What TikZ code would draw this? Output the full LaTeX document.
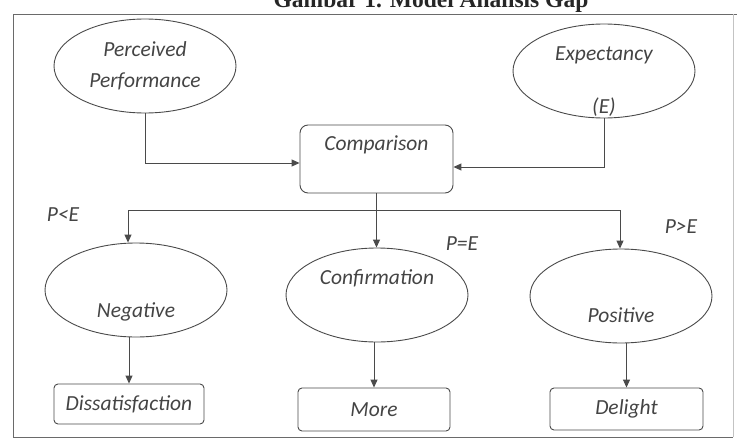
\documentclass[tikz,border=0pt]{standalone}
\usepackage{fontspec}
\setmainfont{Carlito}
\newfontfamily\titlefont{Liberation Serif}
\usetikzlibrary{positioning, calc, shapes.geometric, arrows.meta}
\definecolor{lineCol}{HTML}{4a4a4a}
\definecolor{textCol}{HTML}{444444}
\definecolor{frameCol}{HTML}{6a6a6a}
\tikzset{
    Arrow/.style = {
        draw=lineCol,
        line width=1pt,
        -{Triangle[length=8pt, width=7pt]}
    },
    Line/.style = {
        draw=lineCol,
        line width=1pt
    }
}
\tikzset{
Oval/.style={
  ellipse,
  draw=lineCol,
  line width=0.9pt,
  minimum width=182pt,
  minimum height=94pt,
  inner sep=0pt,
  },
Box/.style={
  rectangle,
  draw=lineCol,
  line width=0.9pt,
  rounded corners=4pt,
  inner sep=0pt,
  },
Txt/.style={
  font=\fontsize{21.5}{24}\selectfont\itshape,
  text=textCol,
  inner sep=0pt,
  align=center,
  }
}

\begin{document}
\begin{tikzpicture}[x=1pt, y=-1pt]
    \useasboundingbox (0,0) rectangle (737,439);

    % title (cut off at the top)
    \node[font=\titlefont\bfseries\fontsize{23.5}{26}\selectfont, anchor=base, text=black!85] (title) at (431,8) {Gambar 1. Model Analisis Gap};

    % frame
    \draw[draw=frameCol, line width=1pt] (13,14) -- (737,14);
    \draw[draw=frameCol, line width=1pt] (13,14) -- (13,437) -- (733,437);
    \draw[draw=frameCol!40, line width=0.8pt] (733,14) -- (733,437);

    % inputs
    \node[Oval] (perf) at (145,66) {};
    \node[Txt] (perfTxt) at (perf) {Perceived\\[7pt]Performance};
    \node[Oval] (exp) at (604,71) {};
    \node[Txt] (expTxt) at ($(exp)+(0,-16)$) {Expectancy};
    \node[Txt] (expTxtE) at ($(exp)+(0,36)$) {(E)};

    % comparison
    \node[Box, rounded corners=8pt, minimum width=153pt, minimum height=68pt] (comp) at (376.5,159) {};
    \node[Txt] (compTxt) at ($(comp)+(0,-14)$) {Comparison};
    \draw[Arrow] (perf.south) |- ([yshift=-4pt]comp.west);
    \draw[Arrow] (exp.south) |- ([yshift=-8pt]comp.east);

    % outcomes
    \node[Oval] (neg) at (136,290) {};
    \node[Txt] (negTxt) at ($(neg)+(0,22)$) {Negative};
    \node[Oval] (conf) at (377,295) {};
    \node[Txt] (confTxt) at ($(conf)+(0,-17)$) {Confirmation};
    \node[Oval] (pos) at (621,296) {};
    \node[Txt] (posTxt) at ($(pos)+(0,19)$) {Positive};

    % branches
    \coordinate (splitL) at (128,210);
    \coordinate (splitR) at (620,210);
    \draw[Line] (splitL) -- (splitR);
    \draw[Arrow] (comp.south) -- (comp.south |- conf.north);
    \draw[Arrow] (splitL) -- (splitL |- neg.north);
    \draw[Arrow] (splitR) -- (splitR |- pos.north);
    \node[Txt] (lt) at (63,215) {P<E};
    \node[Txt] (eq) at (462,244) {P=E};
    \node[Txt] (gt) at (681,227) {P>E};

    % results
    \node[Box, minimum width=150pt, minimum height=40pt] (dis) at (129,404) {};
    \node[Txt] (disTxt) at (dis) {Dissatisfaction};
    \node[Box, minimum width=152pt, minimum height=43pt] (more) at (374,409.5) {};
    \node[Txt] (moreTxt) at (more) {More};
    \node[Box, minimum width=153pt, minimum height=42pt] (del) at (626.5,409) {};
    \node[Txt] (delTxt) at (del) {Delight};
    \draw[Arrow] (neg.south -| dis.north) -- (dis.north);
    \draw[Arrow] (conf.south -| more.north) -- (more.north);
    \draw[Arrow] (pos.south -| del.north) -- (del.north);
\end{tikzpicture}
\end{document}
